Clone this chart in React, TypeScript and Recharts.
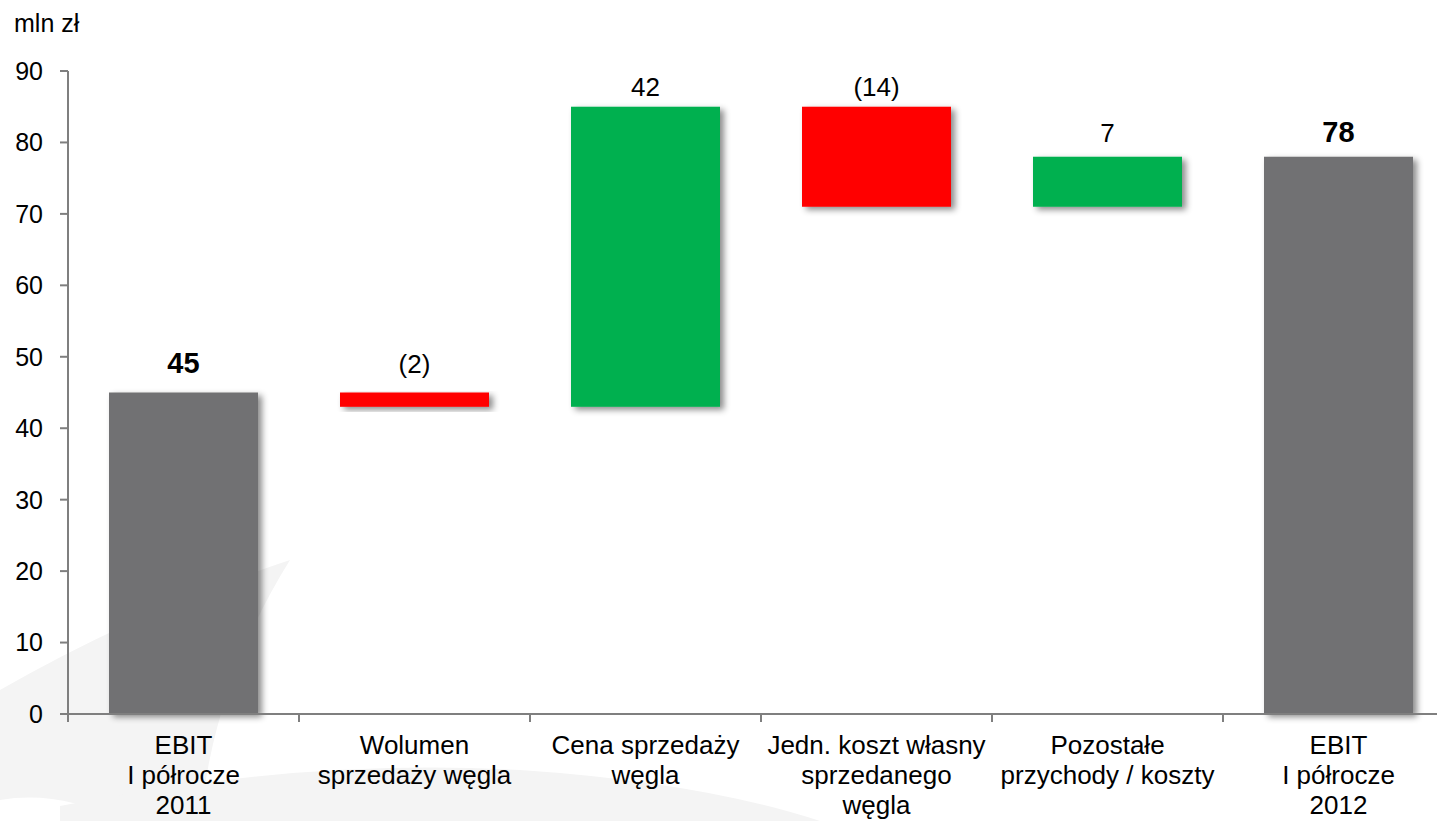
import { BarChart, Bar, XAxis, YAxis, Cell, LabelList } from 'recharts';

const categories = [
    'EBIT\nI półrocze\n2011',
    'Wolumen\nsprzedaży węgla',
    'Cena sprzedaży\nwęgla',
    'Jedn. koszt własny\nsprzedanego\nwęgla',
    'Pozostałe\nprzychody / koszty',
    'EBIT\nI półrocze\n2012',
];
const baseValues = [0, 43, 43, 71, 71, 0];
const deltaValues = [45, 2, 42, 14, 7, 78];
const valueLabels = ['45', '(2)', '42', '(14)', '7', '78'];
const barKinds = ['total', 'down', 'up', 'down', 'up', 'total'];
const yTicks = [0, 10, 20, 30, 40, 50, 60, 70, 80, 90];

const COLORS: Record<string, string> = { total: '#717173', up: '#00b050', down: '#ff0000' };
const FONT = '"Liberation Sans", Arial, sans-serif';
const AXIS = '#7f7f7f';

const CHART_W = 1460;
const CHART_H = 821;
const MARGIN = { top: 71, right: 6, left: 0, bottom: 0 };
const Y_W = 68;
const BAND = (CHART_W - MARGIN.left - MARGIN.right - Y_W) / categories.length;
// gap between label baseline and bar top, as in the original slide
const LABEL_GAP = [20, 20, 11, 11, 15, 15];

const data = categories.map((name, i) => ({
    name,
    base: baseValues[i],
    delta: deltaValues[i],
    label: valueLabels[i],
    kind: barKinds[i],
}));

const CategoryTick = (props: any) => {
    const { x, y, payload } = props;
    const lines = String(payload.value).split('\n');
    const left = x - BAND / 2;
    return (
        <g>
            <line x1={left} x2={left} y1={y} y2={y + 8} stroke={AXIS} strokeWidth={2} />
            <text x={x} y={y + 40} textAnchor="middle" fontSize={26} fontFamily={FONT} fill="#000">
                {lines.map((l, i) => (
                    <tspan key={i} x={x} dy={i === 0 ? 0 : 30}>{l}</tspan>
                ))}
            </text>
        </g>
    );
};

const ShadowBar = (props: any) => {
    const { x, y, width, height, fill } = props;
    if (!height || height <= 0) return null;
    return <rect x={x} y={y} width={width} height={height} fill={fill} filter="url(#barShadow)" />;
};

const ValueLabel = (props: any) => {
    const { x, y, width, index } = props;
    const d = data[index];
    const bold = d.kind === 'total';
    return (
        <text
            x={x + width / 2}
            y={y - LABEL_GAP[index]}
            textAnchor="middle"
            fontSize={bold ? 29 : 26}
            fontWeight={bold ? 'bold' : 'normal'}
            fontFamily={FONT}
            fill="#000"
        >
            {d.label}
        </text>
    );
};

export default function App() {
    return (
        <div style={{ position: 'fixed', left: 0, top: 0, width: 1437, height: 821, overflow: 'hidden', background: '#fff' }}>
            <svg width={1437} height={821} style={{ position: 'absolute', left: 0, top: 0 }}>
                <defs>
                    <filter id="barShadow" x="-10%" y="-10%" width="130%" height="140%">
                        <feDropShadow dx="4" dy="3" stdDeviation="3" floodColor="#000" floodOpacity="0.45" />
                    </filter>
                </defs>
                <path d="M0,690 Q140,610 290,560 Q215,680 200,821 L120,821 Q60,790 0,800 Z" fill="#f4f4f4" />
                <path d="M60,806 Q300,758 520,770 Q700,782 820,821 L60,821 Z" fill="#f4f4f4" />
            </svg>
            <div style={{ position: 'absolute', left: 14, top: 9, fontFamily: FONT, fontSize: 25, color: '#000' }}>mln zł</div>
            <div style={{ position: 'absolute', left: 0, top: 0 }}>
                <BarChart width={CHART_W} height={CHART_H} data={data} margin={MARGIN} barSize={149}>
                    <XAxis
                        dataKey="name"
                        interval={0}
                        height={CHART_H - MARGIN.top - 643}
                        tickSize={0}
                        tickMargin={0}
                        tickLine={false}
                        axisLine={{ stroke: AXIS, strokeWidth: 2 }}
                        tick={<CategoryTick />}
                    />
                    <YAxis
                        width={Y_W}
                        domain={[0, 90]}
                        ticks={yTicks}
                        interval={0}
                        tickSize={8}
                        tickMargin={17}
                        axisLine={{ stroke: AXIS, strokeWidth: 2 }}
                        tickLine={{ stroke: AXIS, strokeWidth: 2 }}
                        tick={{ fontSize: 25, fontFamily: FONT, fill: '#000' }}
                    />
                    <Bar dataKey="base" stackId="w" fill="transparent" isAnimationActive={false} />
                    <Bar dataKey="delta" stackId="w" shape={<ShadowBar />} isAnimationActive={false}>
                        {data.map((d, i) => (
                            <Cell key={i} fill={COLORS[d.kind]} />
                        ))}
                        <LabelList dataKey="label" content={<ValueLabel />} />
                    </Bar>
                </BarChart>
            </div>
        </div>
    );
}
